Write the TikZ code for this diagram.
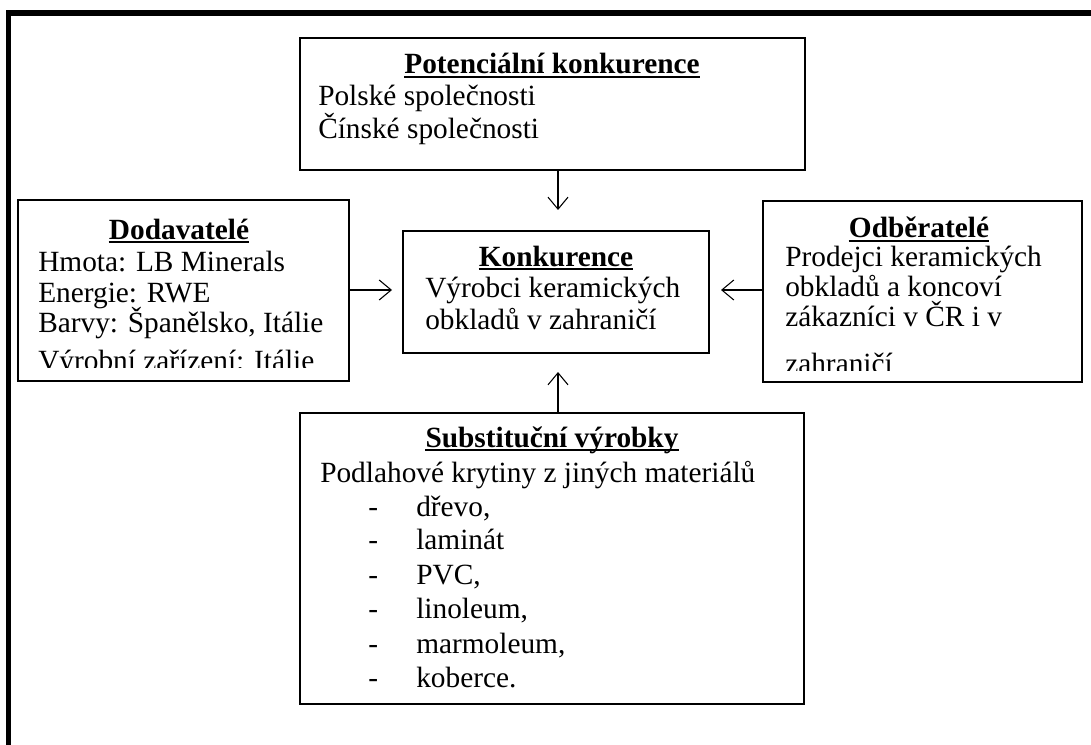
\documentclass[tikz,border=0pt]{standalone}
\usepackage{fontspec}
\setmainfont{Liberation Serif}
\usetikzlibrary{arrows.meta}
\tikzset{
  boxnode/.style={draw, line width=1.1pt, inner sep=0pt, minimum width=#1},
  txt/.style={inner sep=0pt, anchor=base west, font=\fontsize{22pt}{25pt}\selectfont},
  ttl/.style={inner sep=0pt, anchor=base, font=\fontsize{22pt}{25pt}\selectfont\bfseries},
  uline/.style={line width=1.5pt},
  arr/.style={line width=0.8pt, -{Straight Barb[length=9pt,width=15pt,line width=0.8pt]}},
  frame/.style={line width=3.8pt, line join=miter}
}
\newcommand{\ulttl}[1]{\draw[uline] ([yshift=-2.4pt]#1.base west) -- ([yshift=-2.4pt]#1.base east);}
\begin{document}
\begin{tikzpicture}[x=0.75pt,y=-0.75pt]
\useasboundingbox (0,0) rectangle (1091,745);
\fill[white] (0,0) rectangle (1091,745);
% outer frame (top and left only)
\draw[frame] (8.5,745) -- (8.5,13) -- (1091,13);

% boxes
\node[boxnode=378.75pt, minimum height=99pt] (pot) at (552.5,104) {};
\node[boxnode=248.25pt, minimum height=135.75pt] (dod) at (183.5,290.5) {};
\node[boxnode=229.5pt, minimum height=91.5pt] (konk) at (556,292) {};
\node[boxnode=239.25pt, minimum height=135.75pt] (odb) at (922.5,291.5) {};
\node[boxnode=378pt, minimum height=218.25pt] (sub) at (552,558.5) {};

% Potencialni konkurence
\node[ttl] (potT) at (552,74) {Potenciální konkurence};
\ulttl{potT}
\node[txt] (pot1) at (318,106) {Polské společnosti};
\node[txt] (pot2) at (318,139) {Čínské společnosti};

% Dodavatele
\node[ttl] (dodT) at (179,239) {Dodavatelé};
\ulttl{dodT}
\begin{scope}
\clip (19,201) rectangle (348,367);
\node[txt] (dod1) at (38,272) {Hmota: LB Minerals};
\node[txt] (dod2) at (38,302) {Energie: RWE};
\node[txt] (dod3) at (38,332) {Barvy: Španělsko, Itálie};
\node[txt] (dod4) at (38,370) {Výrobní zařízení: Itálie};
\end{scope}

% Konkurence
\node[ttl] (konkT) at (556,266) {Konkurence};
\ulttl{konkT}
\node[txt] (konk1) at (425,297) {Výrobci keramických};
\node[txt] (konk2) at (425,329) {obkladů v zahraničí};

% Odberatele
\node[ttl] (odbT) at (919,238) {Odběratelé};
\ulttl{odbT}
\begin{scope}
\clip (764,202) rectangle (1081,370);
\node[txt] (odb1) at (785,266) {Prodejci keramických};
\node[txt] (odb2) at (785,296) {obkladů a koncoví};
\node[txt] (odb3) at (785,326) {zákazníci v ČR i v};
\node[txt] (odb4) at (785,373) {zahraničí};
\end{scope}

% Substitucni vyrobky
\node[ttl] (subT) at (552,447) {Substituční výrobky};
\ulttl{subT}
\node[txt] (sub0) at (320,482) {Podlahové krytiny z jiných materiálů};
\foreach \y/\t [count=\i] in {516/{dřevo,}, 549/{laminát}, 584/{PVC,}, 618/{linoleum,}, 653/{marmoleum,}, 687/{koberce.}} {
  \node[txt] (subd\i) at (368,\y) {-};
  \node[txt] (subi\i) at (416,\y) {\t};
}

% arrows
\coordinate (tipD) at (558,210);
\coordinate (tipU) at (558,372);
\coordinate (tipR) at (392,290);
\coordinate (tipL) at (721,290);
\draw[arr] (tipD |- pot.south) -- (tipD);
\draw[arr] (tipU |- sub.north) -- (tipU);
\draw[arr] (dod.east |- tipR) -- (tipR);
\draw[arr] (odb.west |- tipL) -- (tipL);
\end{tikzpicture}
\end{document}
